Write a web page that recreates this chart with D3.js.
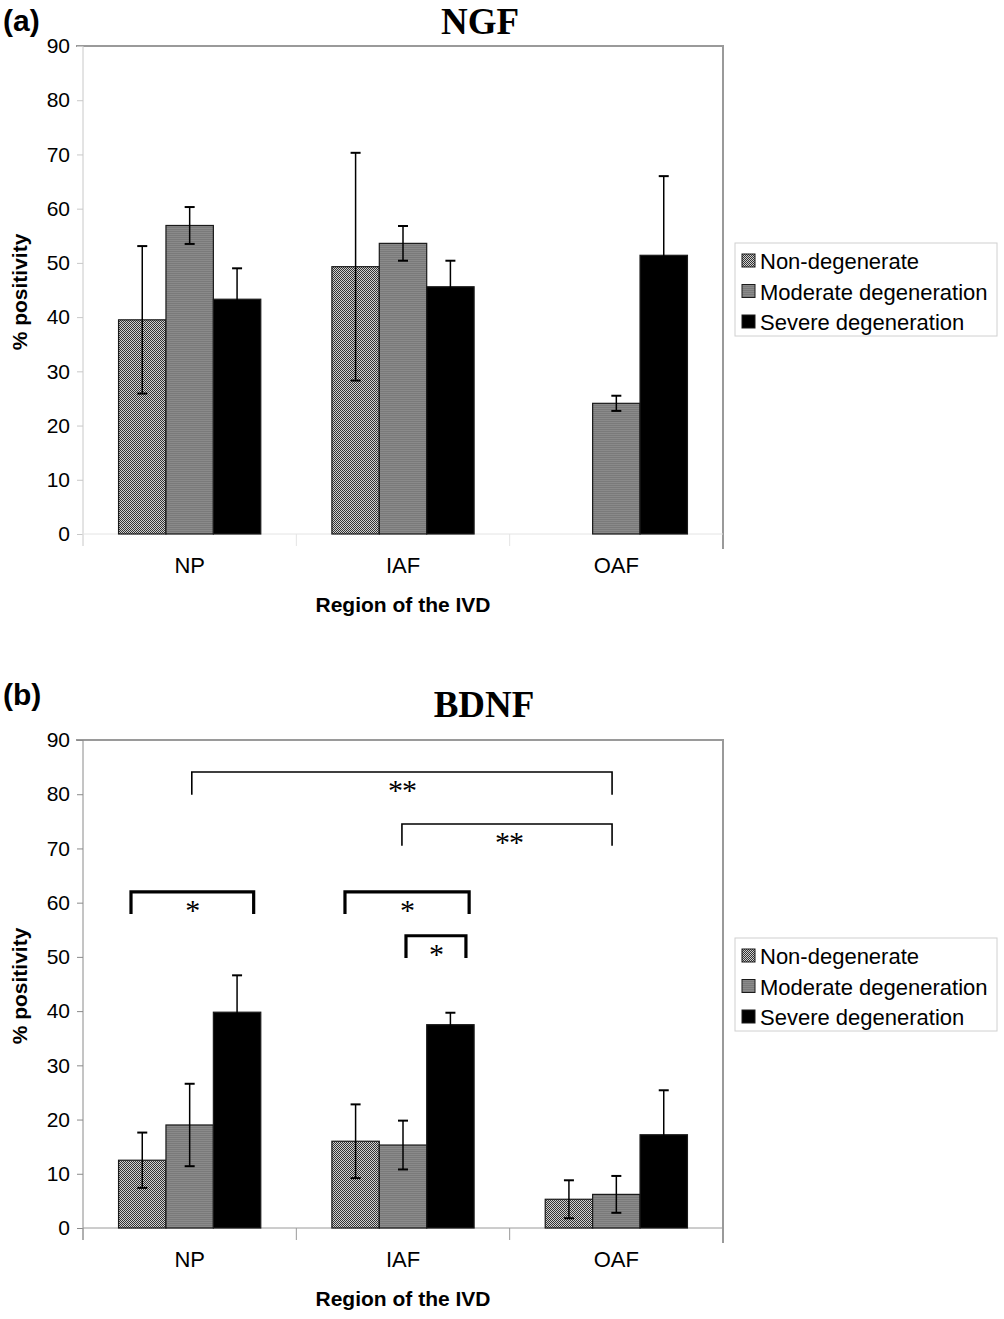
<!DOCTYPE html>
<html><head><meta charset="utf-8">
<script src="https://cdn.jsdelivr.net/npm/d3@7"></script>
<style>body{margin:0;background:#fff}svg{display:block}</style>
</head><body>
<script>
const categories = ["NP", "IAF", "OAF"];
const series = ["Non-degenerate", "Moderate degeneration", "Severe degeneration"];
const yTicks = [0, 10, 20, 30, 40, 50, 60, 70, 80, 90];
// NGF: per series, values per category (null = no bar)
const ngfNonDeg = [39.5, 49.3, null];
const ngfModerate = [56.9, 53.6, 24.1];
const ngfSevere = [43.3, 45.6, 51.4];
const ngfNonDegErr = [13.6, 21.0, null];
const ngfModerateErr = [3.4, 3.2, 1.4];
const ngfSevereErr = [5.7, 4.8, 14.6];
// BDNF
const bdnfNonDeg = [12.5, 16.0, 5.3];
const bdnfModerate = [19.0, 15.3, 6.2];
const bdnfSevere = [39.8, 37.5, 17.2];
const bdnfNonDegErr = [5.1, 6.8, 3.5];
const bdnfModerateErr = [7.6, 4.5, 3.4];
const bdnfSevereErr = [6.8, 2.2, 8.2];
// significance brackets (x in category-index units, y in % units)
const bracketX1 = [0.51, 1.495, 0.225, 1.228, 1.514];
const bracketX2 = [2.48, 2.48, 0.80, 1.81, 1.795];
const bracketTop = [84.1, 74.5, 62.0, 62.0, 53.9];
const bracketBottom = [79.9, 70.5, 57.9, 57.9, 49.8];
const bracketLabel = ["**", "**", "*", "*", "*"];
const bracketHeavy = [false, false, true, true, true];

const W = 1004, H = 1319;
const SANS = "Liberation Sans, Arial, sans-serif";
const SERIF = "Liberation Serif, Times New Roman, serif";
const svg = d3.select("body").append("svg").attr("width", W).attr("height", H);
const defs = svg.append("defs");

// patterns
const p1 = defs.append("pattern").attr("id", "checker").attr("patternUnits", "userSpaceOnUse")
  .attr("width", 2).attr("height", 2);
p1.append("rect").attr("width", 2).attr("height", 2).attr("fill", "#d0d0d0");
p1.append("rect").attr("width", 1).attr("height", 1).attr("fill", "#333");
p1.append("rect").attr("x", 1).attr("y", 1).attr("width", 1).attr("height", 1).attr("fill", "#333");
const p2 = defs.append("pattern").attr("id", "hstripe").attr("patternUnits", "userSpaceOnUse")
  .attr("width", 4).attr("height", 2);
p2.append("rect").attr("width", 4).attr("height", 2).attr("fill", "#8a8a8a");
p2.append("rect").attr("y", 1).attr("width", 4).attr("height", 1).attr("fill", "#7a7a7a");

const fills = ["url(#checker)", "url(#hstripe)", "#000"];

function panel(cfg) {
  const g = svg.append("g");
  const left = 83, right = 723;
  const y = d3.scaleLinear().domain([0, 90]).range([cfg.bottom, cfg.top]);
  const x0 = d3.scaleBand().domain(categories).range([left, right]);
  const bw = x0.bandwidth();
  const x1 = d3.scaleBand().domain(series).range([bw / 6, bw * 5 / 6]);
  const xl = d3.scaleLinear().domain([0, 3]).range([left, right]);

  // frame top & right
  g.append("path").attr("d", `M${left - 7},${cfg.top}H${right}V${cfg.bottom + 15}`)
    .attr("fill", "none").attr("stroke", "#9a9a9a").attr("stroke-width", 2);

  // y axis
  const ya = g.append("g").attr("transform", `translate(${left},0)`)
    .call(d3.axisLeft(y).tickValues(yTicks).tickSize(6).tickPadding(7));
  ya.select(".domain").attr("stroke", cfg.axisColor).attr("d", `M0,${cfg.top}V${cfg.bottom + 12}`);
  ya.selectAll(".tick line").attr("stroke", cfg.axisColor);
  ya.selectAll(".tick text").attr("font-family", SANS)
    .attr("font-size", 21).attr("fill", "#000");

  // x axis
  const xa = g.append("g").attr("transform", `translate(0,${cfg.bottom})`)
    .call(d3.axisBottom(x0).tickSize(0).tickPadding(23));
  xa.select(".domain").attr("stroke", cfg.xAxisColor).attr("d", `M${left},0H${right}`);
  xa.selectAll(".tick text").attr("font-family", SANS)
    .attr("font-size", 22).attr("fill", "#000");
  g.selectAll(".xsep").data([0, 1, 2]).join("line")
    .attr("x1", d => xl(d)).attr("x2", d => xl(d))
    .attr("y1", cfg.bottom).attr("y2", cfg.bottom + 12)
    .attr("stroke", cfg.xAxisColor);

  // bars
  const rows = [];
  series.forEach((s, si) => {
    categories.forEach((c, ci) => {
      const v = cfg.values[si][ci];
      if (v == null) return;
      rows.push({ s, si, c, v, e: cfg.errors[si][ci] });
    });
  });
  g.selectAll(".bar").data(rows).join("rect")
    .attr("x", d => x0(d.c) + x1(d.s)).attr("width", x1.bandwidth())
    .attr("y", d => y(d.v)).attr("height", d => y(0) - y(d.v))
    .attr("fill", d => fills[d.si]).attr("stroke", "#1a1a1a").attr("stroke-width", 1.2);

  // error bars
  const eb = g.selectAll(".err").data(rows).join("g")
    .attr("transform", d => `translate(${x0(d.c) + x1(d.s) + x1.bandwidth() / 2},0)`);
  eb.append("line").attr("y1", d => y(d.v + d.e)).attr("y2", d => y(d.v - d.e))
    .attr("stroke", "#000").attr("stroke-width", 1.5);
  eb.append("line").attr("x1", -5).attr("x2", 5).attr("y1", d => y(d.v + d.e)).attr("y2", d => y(d.v + d.e))
    .attr("stroke", "#000").attr("stroke-width", 2);
  eb.append("line").attr("x1", -5).attr("x2", 5).attr("y1", d => y(d.v - d.e)).attr("y2", d => y(d.v - d.e))
    .attr("stroke", "#000").attr("stroke-width", 2);

  // brackets
  if (cfg.brackets) {
    bracketX1.forEach((bx, i) => {
      const sw = bracketHeavy[i] ? 3.2 : 1.6;
      g.append("path")
        .attr("d", `M${xl(bx)},${y(bracketBottom[i])}V${y(bracketTop[i])}H${xl(bracketX2[i])}V${y(bracketBottom[i])}`)
        .attr("fill", "none").attr("stroke", "#000").attr("stroke-width", sw);
      g.append("text").attr("x", (xl(bx) + xl(bracketX2[i])) / 2 + (i === 1 ? 2 : 0))
        .attr("y", y(bracketTop[i]) + 28)
        .attr("text-anchor", "middle").attr("font-family", SERIF)
        .attr("font-size", 30).attr("letter-spacing", -1).text(bracketLabel[i]);
    });
  }

  // title
  g.append("text").attr("x", cfg.titleX).attr("y", cfg.titleY).attr("text-anchor", "middle")
    .attr("font-family", SERIF).attr("font-weight", "bold")
    .attr("font-size", 37).text(cfg.title);
  // panel label
  g.append("text").attr("x", 3).attr("y", cfg.labelY).attr("font-family", SANS)
    .attr("font-weight", "bold").attr("font-size", 30).text(cfg.panel);
  // y label
  g.append("text").attr("transform", `translate(27,${(cfg.top + cfg.bottom) / 2 + 2}) rotate(-90)`)
    .attr("text-anchor", "middle").attr("font-family", SANS)
    .attr("font-weight", "bold").attr("font-size", 21).text("% positivity");
  // x label
  g.append("text").attr("x", 403).attr("y", cfg.bottom + 78).attr("text-anchor", "middle")
    .attr("font-family", SANS).attr("font-weight", "bold")
    .attr("font-size", 21).text("Region of the IVD");

  // legend
  const lg = g.append("g").attr("transform", `translate(735,${cfg.legendTop})`);
  lg.append("rect").attr("width", 262).attr("height", 93).attr("fill", "#fff").attr("stroke", "#d0d0d0");
  series.forEach((s, i) => {
    const yy = 18 + i * 30.5;
    lg.append("rect").attr("x", 7).attr("y", yy - 7).attr("width", 13).attr("height", 13)
      .attr("fill", fills[i]).attr("stroke", "#1a1a1a").attr("stroke-width", 1);
    lg.append("text").attr("x", 25).attr("y", yy + 8).attr("font-family", SANS)
      .attr("font-size", 22).text(s);
  });
}

panel({
  top: 46, bottom: 534, title: "NGF", titleX: 480, titleY: 34, panel: "(a)", labelY: 31,
  values: [ngfNonDeg, ngfModerate, ngfSevere], errors: [ngfNonDegErr, ngfModerateErr, ngfSevereErr],
  legendTop: 243, axisColor: "#c8c8c8", xAxisColor: "#e4e4e4", brackets: false
});
panel({
  top: 740, bottom: 1228, title: "BDNF", titleX: 484, titleY: 717, panel: "(b)", labelY: 705,
  values: [bdnfNonDeg, bdnfModerate, bdnfSevere], errors: [bdnfNonDegErr, bdnfModerateErr, bdnfSevereErr],
  legendTop: 938, axisColor: "#8a8a8a", xAxisColor: "#9a9a9a", brackets: true
});
</script>
</body></html>
